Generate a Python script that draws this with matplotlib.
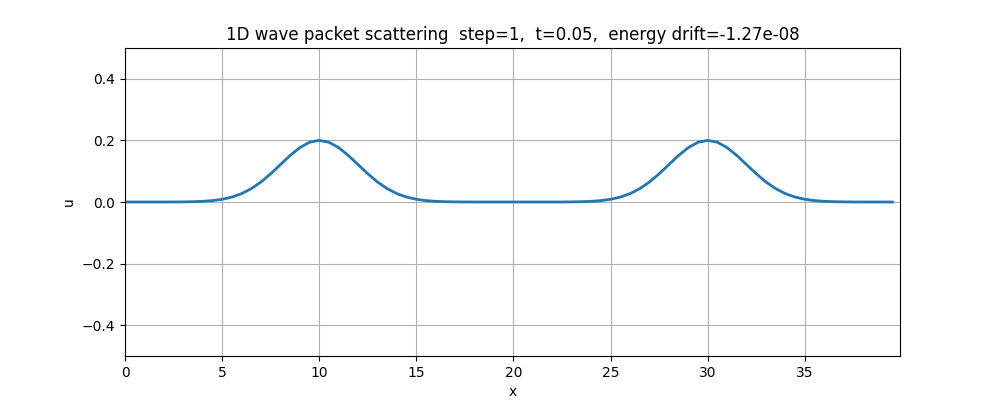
import matplotlib
matplotlib.use("Agg")
import matplotlib.pyplot as plt
import numpy as np

# samples, step 0.5 in x
rise = [0.0001, 0.0004, 0.001, 0.0022, 0.0045, 0.0088, 0.0159, 0.0271,
        0.0433, 0.0649, 0.0916, 0.1213, 0.151, 0.1765, 0.194]
peak = [0.2]
fall = rise[::-1]

u = [0.0] * 5 + rise + peak + fall + [0.0] * 9 + rise + peak + fall + [0.0] * 4
x = np.arange(0, 40, 0.5)

fig, ax = plt.subplots(figsize=(10, 4), dpi=100)
ax.plot(x, u, color="#1f77b4", linewidth=2)
ax.set_xlim(0, 39.9)
ax.set_ylim(-0.5, 0.5)
ax.set_xlabel("x")
ax.set_ylabel("u")
ax.set_title("1D wave packet scattering  step=1,  t=0.05,  energy drift=-1.27e-08")
ax.grid(True)
fig.savefig("out.png")
